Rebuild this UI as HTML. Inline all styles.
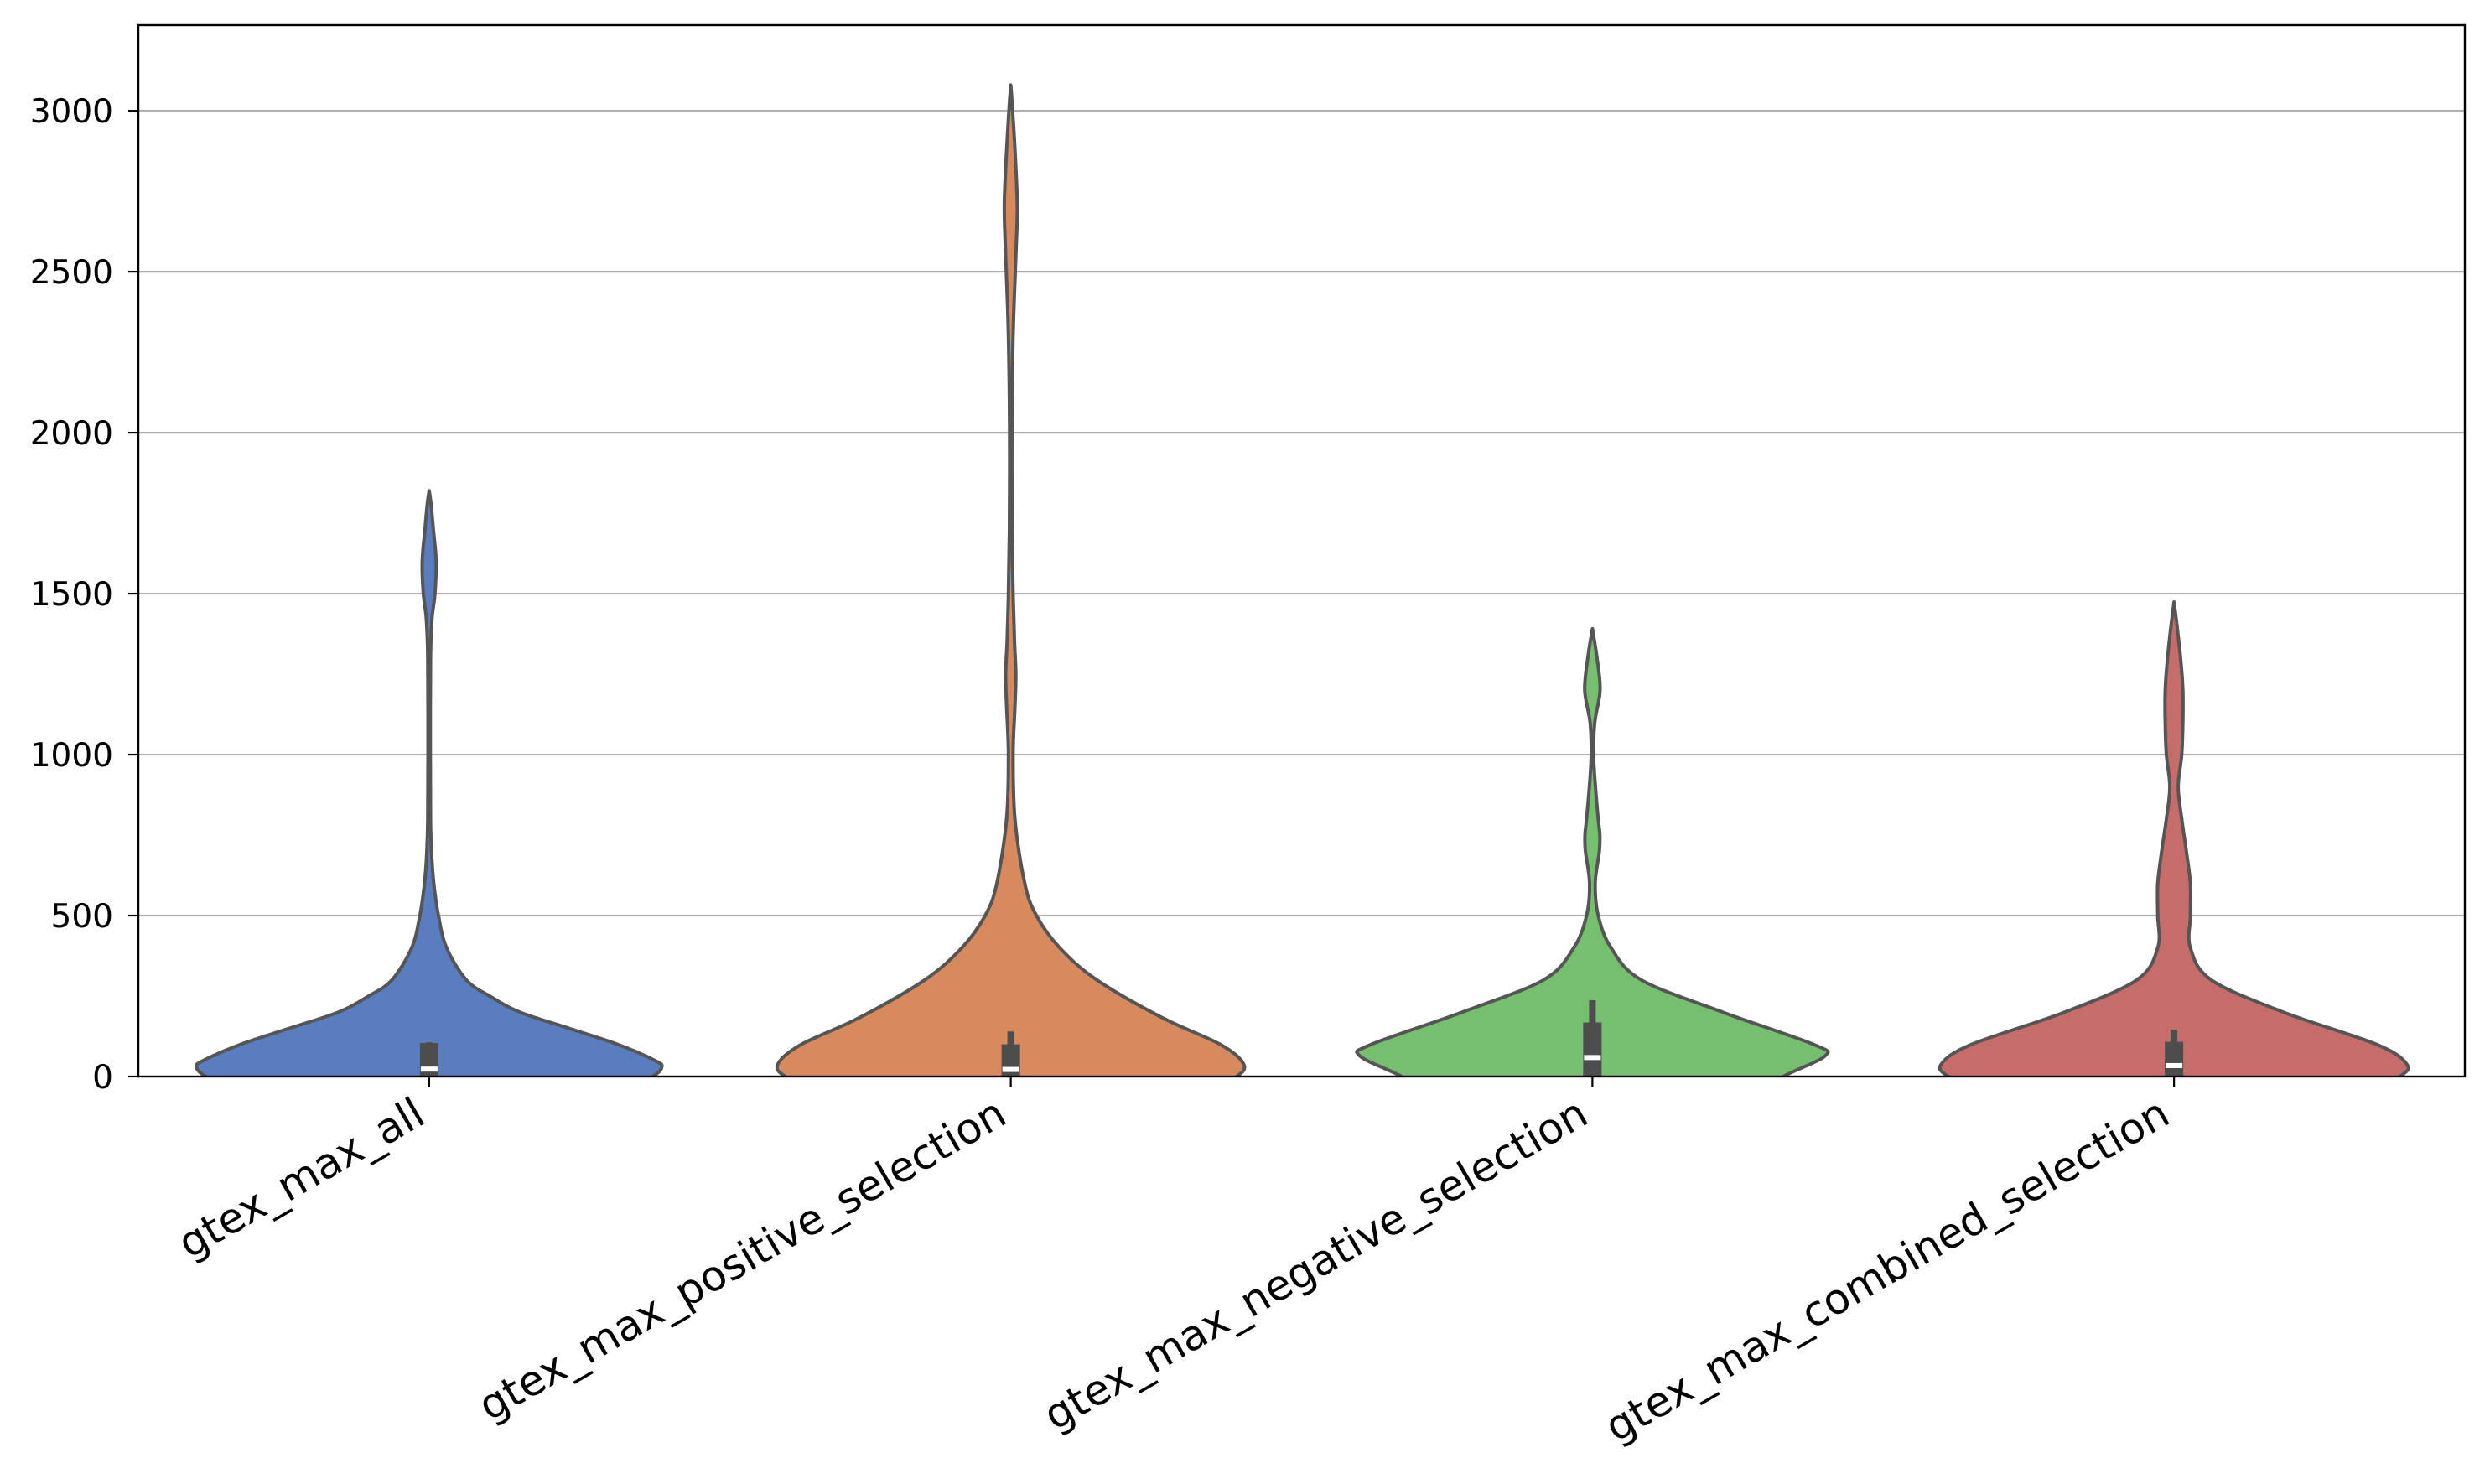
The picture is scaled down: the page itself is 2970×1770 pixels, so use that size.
<!DOCTYPE html>
<html><head><meta charset="utf-8"><style>
html,body{margin:0;padding:0;background:#fff;}
svg{display:block;}
text{font-family:"DejaVu Sans","Liberation Sans",sans-serif;}
</style></head><body>
<svg id="chart" width="2970" height="1770" viewBox="0 0 2970 1770" xmlns="http://www.w3.org/2000/svg">
<defs><clipPath id="plotclip"><rect x="165" y="30" width="2775" height="1254"/></clipPath></defs>
<rect x="0" y="0" width="2970" height="1770" fill="#fff"/>
<g id="grid"></g>
<g id="violins" clip-path="url(#plotclip)"></g>
<g id="boxes" clip-path="url(#plotclip)"></g>
<rect x="165" y="30" width="2775" height="1254" fill="none" stroke="#000" stroke-width="2.4"/>
<g id="axes"></g>
</svg>
<script>
const categories = ["gtex_max_all","gtex_max_positive_selection","gtex_max_negative_selection","gtex_max_combined_selection"];
const yTicks = [0,500,1000,1500,2000,2500,3000];
const colors = ["#5a7dbf","#d68a5e","#75bf6f","#c66d6c"];
// density profiles: value levels and relative half-widths (0..1)
const v1Vals = [-60,0,30,50,100,150,200,250,300,400,500,600,700,800,1000,1300,1420,1500,1600,1700,1780,1820];
const v1Wid  = [0.8,0.96,1.0,0.97,0.81,0.6,0.39,0.26,0.16,0.075,0.04,0.02,0.01,0.006,0.005,0.006,0.012,0.025,0.03,0.018,0.008,0];
const v2Vals = [-60,0,40,100,183,300,400,500,600,800,1000,1150,1250,1350,1500,1700,2000,2300,2550,2700,2850,3000,3080];
const v2Wid  = [0.8,0.97,1.0,0.9,0.65,0.37,0.21,0.11,0.06,0.018,0.01,0.018,0.022,0.016,0.01,0.006,0.005,0.01,0.022,0.028,0.02,0.008,0];
const v3Vals = [-60,0,64,100,200,300,400,500,600,700,750,800,900,1000,1100,1200,1300,1391];
const v3Wid  = [0.7,0.82,1.0,0.95,0.56,0.21,0.08,0.025,0.012,0.03,0.032,0.025,0.013,0.005,0.01,0.033,0.02,0];
const v4Vals = [-60,0,39,100,200,300,400,500,600,700,800,900,1000,1100,1200,1300,1400,1474];
const v4Wid  = [0.8,0.97,1.0,0.87,0.47,0.16,0.07,0.07,0.07,0.053,0.033,0.018,0.033,0.038,0.038,0.028,0.013,0];
const boxQ1 = [3,3,3,3];
const boxQ3 = [104,100,168,108];
const whiskerTop = [106,140,237,146];
const medians = [23,22,59,34];

const NS="http://www.w3.org/2000/svg";
const L=165,R=2940,T=30,B=1284;
const yMin=0,yMax=3266;
function y(v){return B-(v-yMin)/(yMax-yMin)*(B-T);}
const band=(R-L)/categories.length;
function xc(i){return L+band*(i+0.5);}
const halfMax=band*0.4;
function mk(tag,attrs,parent){const e=document.createElementNS(NS,tag);for(const k in attrs)e.setAttribute(k,attrs[k]);parent.appendChild(e);return e;}

const grid=document.getElementById('grid');
const axes=document.getElementById('axes');
yTicks.forEach(t=>{
  if(t>0){const gl=mk('line',{x1:L,x2:R,y1:y(t),y2:y(t),stroke:'#b0b0b0','stroke-width':2.2},grid);
  
  }
  const tk=mk('line',{x1:L-12,x2:L,y1:y(t),y2:y(t),stroke:'#000','stroke-width':2.2},axes);
  
  
  const tx=mk('text',{x:L-30,y:y(t)+14,'text-anchor':'end','font-size':39,fill:'#000'},axes);
  tx.textContent=t;
  
  
});

function smooth(pts){
  let d="M"+pts[0][0]+","+pts[0][1];
  for(let i=0;i<pts.length-1;i++){
    const p0=pts[i-1]||pts[i],p1=pts[i],p2=pts[i+1],p3=pts[i+2]||p2;
    const c1=[p1[0]+(p2[0]-p0[0])/6,p1[1]+(p2[1]-p0[1])/6];
    const c2=[p2[0]-(p3[0]-p1[0])/6,p2[1]-(p3[1]-p1[1])/6];
    d+=" C"+c1[0].toFixed(1)+","+c1[1].toFixed(1)+" "+c2[0].toFixed(1)+","+c2[1].toFixed(1)+" "+p2[0].toFixed(1)+","+p2[1].toFixed(1);
  }
  return d;
}
const vg=document.getElementById('violins');
const bg=document.getElementById('boxes');
const profiles=[[v1Vals,v1Wid],[v2Vals,v2Wid],[v3Vals,v3Wid],[v4Vals,v4Wid]];
profiles.forEach((p,i)=>{
  const [vals,wid]=p;const cx=xc(i);
  const right=vals.map((v,k)=>[cx+wid[k]*halfMax,y(v)]);
  const left=vals.map((v,k)=>[cx-wid[k]*halfMax,y(v)]).reverse();
  let d=smooth(right)+" "+smooth(left).replace(/^M/,"L")+" Z";
  const path=mk('path',{d:d,fill:colors[i],stroke:'#555','stroke-width':4,'stroke-linejoin':'round'},vg);
  
  
  const wh=mk('line',{x1:cx,x2:cx,y1:y(whiskerTop[i]),y2:y(0),stroke:'#4d4d4d','stroke-width':8},bg);
  
  
  const bx=mk('rect',{x:cx-11,y:y(boxQ3[i]),width:22,height:y(0)-y(boxQ3[i]),fill:'#4d4d4d'},bg);
  
  
  const md=mk('rect',{x:cx-10,y:y(medians[i])-3,width:20,height:6,fill:'#fff'},bg);
  
  
  const tk=mk('line',{x1:cx,x2:cx,y1:B,y2:B+12,stroke:'#000','stroke-width':2.2},axes);
  
  
  const ax=cx-2, ay=B+54;
  const tx=mk('text',{x:ax,y:ay,'text-anchor':'end','font-size':50,fill:'#000',transform:'rotate(-30 '+ax+' '+ay+')'},axes);
  tx.textContent=categories[i];
  
  
});
</script>
</body></html>
